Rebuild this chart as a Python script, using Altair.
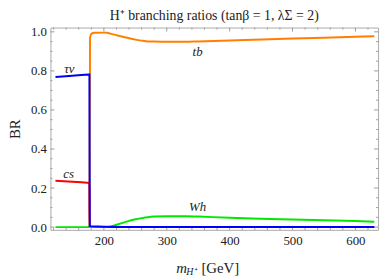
import altair as alt
import pandas as pd

# ---- data ----
tn_m = [123, 150, 177, 177.5, 190, 200, 250, 400, 630]
tn_br = [0.769, 0.775, 0.781, 0.005, 0.003, 0.002, 0.001, 0.001, 0.001]

cs_m = [123, 150, 177, 177.5, 630]
cs_br = [0.237, 0.232, 0.226, 0.0, 0.0]

wh_m = [123, 177, 205, 210, 220, 230, 240, 250, 260, 270, 280, 300, 330, 350, 400, 450, 500, 550, 600, 630]
wh_br = [0.0, 0.0, 0.0, 0.002, 0.012, 0.022, 0.032, 0.040, 0.046, 0.051, 0.054, 0.056, 0.056, 0.054,
         0.048, 0.043, 0.039, 0.035, 0.031, 0.028]

tb_m = [177, 178, 180, 185, 200, 205, 210, 220, 230, 240, 250, 260, 270, 280, 300, 330, 350, 400,
        450, 500, 550, 600, 630]
tb_br = [0.0, 0.97, 0.99, 0.995, 0.996, 0.995, 0.991, 0.983, 0.975, 0.967, 0.960, 0.955, 0.951,
         0.950, 0.949, 0.949, 0.951, 0.956, 0.961, 0.966, 0.970, 0.975, 0.977]

lab_text = ["τν", "cs", "tb", "Wh"]
lab_m = [145, 144, 349, 349]
lab_br = [0.807, 0.271, 0.899, 0.103]

x_major = [200, 300, 400, 500, 600]
x_minor = [v for v in range(120, 640, 20) if v not in x_major]
y_major = [0.0, 0.2, 0.4, 0.6, 0.8, 1.0]
y_minor = [round(i * 0.05, 2) for i in range(0, 21) if i % 4 != 0]

W, H = 332, 205
FONT = "Liberation Serif"

x_scale = alt.Scale(domain=[115, 636], nice=False, zero=False)
y_scale = alt.Scale(domain=[-0.014, 1.022], nice=False, zero=False)
x_axis = alt.Axis(values=x_major, title=None, ticks=False, tickSize=0, domain=False, grid=False,
                  labelFont=FONT, labelFontSize=13, labelColor="#222", labelPadding=5)
y_axis = alt.Axis(values=y_major, format=".1f", title="BR", ticks=False, tickSize=0, domain=False,
                  grid=False, labelFont=FONT, labelFontSize=13, labelColor="#222", labelPadding=4,
                  titleFont=FONT, titleFontSize=15, titleFontWeight="normal", titleColor="#222",
                  titlePadding=8)

X = lambda f: alt.X(f, type="quantitative", scale=x_scale, axis=x_axis)
Y = lambda f: alt.Y(f, type="quantitative", scale=y_scale, axis=y_axis)


def series(ms, brs, color):
    df = pd.DataFrame({"m": ms, "br": brs, "i": range(len(ms))})
    return alt.Chart(df).mark_line(color=color, strokeWidth=2, interpolate="monotone").encode(
        x=X("m"), y=Y("br"), order="i:Q")


tb = series(tb_m, tb_br, "#FF8000")
cs = series(cs_m, cs_br, "#FF0000")
wh = series(wh_m, wh_br, "#00E800")
tn = series(tn_m, tn_br, "#0000FF")

labels = alt.Chart(pd.DataFrame({"t": lab_text, "m": lab_m, "br": lab_br})).mark_text(
    font=FONT, fontSize=13, fontStyle="italic", color="#222").encode(x=X("m"), y=Y("br"), text="t")

tx_maj = pd.DataFrame({"v": x_major})
tx_min = pd.DataFrame({"v": x_minor})
ty_maj = pd.DataFrame({"v": y_major})
ty_min = pd.DataFrame({"v": y_minor})
TC = "#999999"


def xticks(df, L):
    top = alt.Chart(df).mark_rule(color=TC, strokeWidth=1).encode(
        x=X("v"), y=alt.value(0), y2=alt.value(L))
    bot = alt.Chart(df).mark_rule(color=TC, strokeWidth=1).encode(
        x=X("v"), y=alt.value(H), y2=alt.value(H - L))
    return top + bot


def yticks(df, L):
    left = alt.Chart(df).mark_rule(color=TC, strokeWidth=1).encode(
        y=Y("v"), x=alt.value(0), x2=alt.value(L))
    right = alt.Chart(df).mark_rule(color=TC, strokeWidth=1).encode(
        y=Y("v"), x=alt.value(W), x2=alt.value(W - L))
    return left + right


xtitle_m = alt.Chart(pd.DataFrame({"t": ["m"]})).mark_text(
    font=FONT, fontSize=15, fontStyle="italic", color="#222", align="center", baseline="middle").encode(
    x=alt.value(133), y=alt.value(244), text="t")
xtitle_h = alt.Chart(pd.DataFrame({"t": ["H⁺"]})).mark_text(
    font=FONT, fontSize=10, fontStyle="italic", color="#222", align="left", baseline="middle").encode(
    x=alt.value(137.5), y=alt.value(248), text="t")
xtitle_g = alt.Chart(pd.DataFrame({"t": ["[GeV]"]})).mark_text(
    font=FONT, fontSize=15, color="#222", align="left", baseline="middle").encode(
    x=alt.value(153), y=alt.value(244), text="t")

chart = alt.layer(
    xticks(tx_maj, 4), xticks(tx_min, 2), yticks(ty_maj, 4), yticks(ty_min, 2),
    tb, cs, wh, tn, labels, xtitle_m, xtitle_h, xtitle_g
).properties(
    width=W, height=H,
    title=alt.Title("H⁺ branching ratios (tanβ = 1, λΣ = 2)", font=FONT, fontSize=14,
                    fontWeight="normal", color="#222", anchor="middle", offset=3),
    autosize=alt.AutoSizeParams(type="none"),
    padding={"left": 43, "top": 18, "right": 5, "bottom": 48},
).configure_view(stroke="#aaaaaa", strokeWidth=1)

chart.save("out.html", embed_options={"renderer": "svg", "actions": False})
